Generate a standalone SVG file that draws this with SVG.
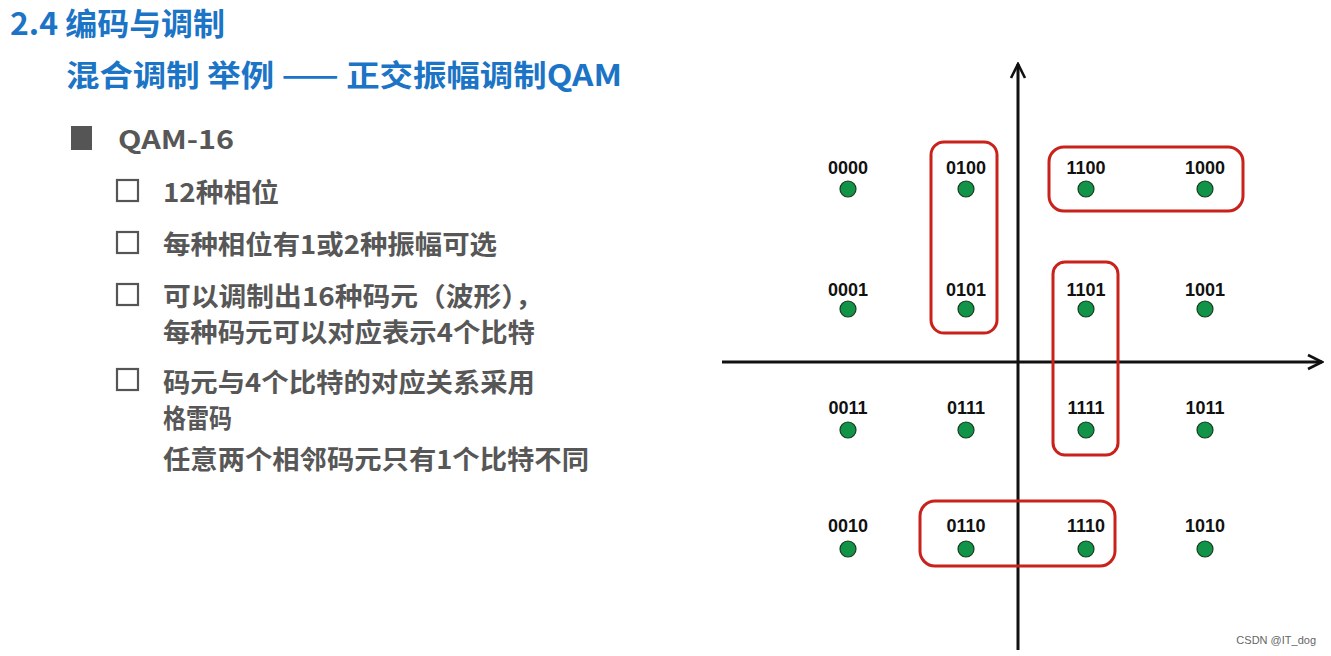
<svg xmlns="http://www.w3.org/2000/svg" width="1331" height="656" viewBox="0 0 1331 656">
<style>
.h{font-family:"Noto Sans CJK SC","Liberation Sans",sans-serif;font-weight:bold;fill:#1b74c5}
.t{font-family:"Noto Sans CJK SC","Liberation Sans",sans-serif;font-weight:bold;fill:#575757;font-size:26px}
.cb{fill:none;stroke:#555;stroke-width:2.2}
.lb{font-family:"Liberation Sans",Arial,sans-serif;font-weight:bold;font-size:18px;fill:#111;text-anchor:middle}
.d{fill:#119447;stroke:#1a3a22;stroke-width:1.2}
.r{fill:none;stroke:#c8221b;stroke-width:3}
.ax{stroke:#111;stroke-width:3;fill:none}
</style>
<defs>
<marker id="ar" markerWidth="18" markerHeight="18" refX="16" refY="9" orient="auto" markerUnits="userSpaceOnUse"><path d="M2,2 L16,9 L2,16" fill="none" stroke="#111" stroke-width="2.6"/></marker></defs>
<rect width="1331" height="656" fill="#fff"/>
<text class="h" x="10" y="35" font-size="31" textLength="215" lengthAdjust="spacingAndGlyphs">2.4 编码与调制</text>
<text class="h" x="66" y="86" font-size="30" textLength="556" lengthAdjust="spacingAndGlyphs">混合调制 举例 —— 正交振幅调制QAM</text>
<rect x="71" y="126" width="21" height="24" fill="#555"/>
<text class="t" x="118" y="149" font-size="28" textLength="116" lengthAdjust="spacingAndGlyphs">QAM-16</text>
<rect class="cb" x="117" y="180" width="21" height="21"/>
<rect class="cb" x="117" y="232" width="21" height="21"/>
<rect class="cb" x="117" y="284" width="21" height="21"/>
<rect class="cb" x="117" y="369" width="21" height="21"/>
<text class="t" x="163" y="202" textLength="116" lengthAdjust="spacingAndGlyphs">12种相位</text>
<text class="t" x="163" y="254" textLength="334" lengthAdjust="spacingAndGlyphs">每种相位有1或2种振幅可选</text>
<text class="t" x="163" y="306" textLength="380" lengthAdjust="spacingAndGlyphs">可以调制出16种码元（波形），</text>
<text class="t" x="163" y="342" textLength="372" lengthAdjust="spacingAndGlyphs">每种码元可以对应表示4个比特</text>
<text class="t" x="163" y="392" textLength="372" lengthAdjust="spacingAndGlyphs">码元与4个比特的对应关系采用</text>
<text class="t" x="163" y="428" textLength="69" lengthAdjust="spacingAndGlyphs">格雷码</text>
<text class="t" x="163" y="469" textLength="426" lengthAdjust="spacingAndGlyphs">任意两个相邻码元只有1个比特不同</text>
<g id="connectors">
<line class="ax" x1="1018" y1="650" x2="1018" y2="64" marker-end="url(#ar)"/>
<line class="ax" x1="722" y1="362" x2="1322" y2="362" marker-end="url(#ar)"/>
</g>
<g id="groups">
<rect class="r" x="931" y="142" width="66" height="191" rx="13"/>
<rect class="r" x="1049" y="147" width="194" height="64" rx="15"/>
<rect class="r" x="1053" y="262" width="65" height="193" rx="12"/>
<rect class="r" x="920" y="501" width="195" height="65" rx="15"/>
</g>
<g id="points">
<g id="p0000"><text class="lb" x="848" y="174">0000</text><circle class="d" cx="848" cy="189" r="8"/></g>
<g id="p0100"><text class="lb" x="966" y="174">0100</text><circle class="d" cx="966" cy="189" r="8"/></g>
<g id="p1100"><text class="lb" x="1086" y="174">1100</text><circle class="d" cx="1086" cy="189" r="8"/></g>
<g id="p1000"><text class="lb" x="1205" y="174">1000</text><circle class="d" cx="1205" cy="189" r="8"/></g>
<g id="p0001"><text class="lb" x="848" y="296">0001</text><circle class="d" cx="848" cy="309" r="8"/></g>
<g id="p0101"><text class="lb" x="966" y="296">0101</text><circle class="d" cx="966" cy="309" r="8"/></g>
<g id="p1101"><text class="lb" x="1086" y="296">1101</text><circle class="d" cx="1086" cy="309" r="8"/></g>
<g id="p1001"><text class="lb" x="1205" y="296">1001</text><circle class="d" cx="1205" cy="309" r="8"/></g>
<g id="p0011"><text class="lb" x="848" y="414">0011</text><circle class="d" cx="848" cy="430" r="8"/></g>
<g id="p0111"><text class="lb" x="966" y="414">0111</text><circle class="d" cx="966" cy="430" r="8"/></g>
<g id="p1111"><text class="lb" x="1086" y="414">1111</text><circle class="d" cx="1086" cy="430" r="8"/></g>
<g id="p1011"><text class="lb" x="1205" y="414">1011</text><circle class="d" cx="1205" cy="430" r="8"/></g>
<g id="p0010"><text class="lb" x="848" y="532">0010</text><circle class="d" cx="848" cy="549" r="8"/></g>
<g id="p0110"><text class="lb" x="966" y="532">0110</text><circle class="d" cx="966" cy="549" r="8"/></g>
<g id="p1110"><text class="lb" x="1086" y="532">1110</text><circle class="d" cx="1086" cy="549" r="8"/></g>
<g id="p1010"><text class="lb" x="1205" y="532">1010</text><circle class="d" cx="1205" cy="549" r="8"/></g>
</g>
<text x="1316" y="644" font-family="Liberation Sans,sans-serif" font-size="11" fill="#666" text-anchor="end">CSDN @IT_dog</text>
</svg>
